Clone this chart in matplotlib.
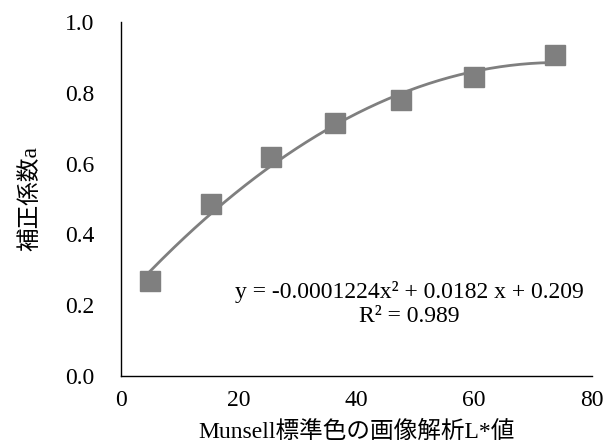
import matplotlib
matplotlib.use("Agg")
import matplotlib.pyplot as plt
import numpy as np

plt.rcParams["font.family"] = ["Liberation Serif", "Noto Sans CJK JP", "DejaVu Sans"]

# measured points: Munsell chip L* from image vs. correction coefficient a
L_values = [4.9, 15.3, 25.5, 36.4, 47.6, 59.9, 73.7]
coef_a = [0.269, 0.486, 0.619, 0.714, 0.780, 0.844, 0.908]

# quadratic trendline as printed on the chart
trend_coefs = [-0.0001224, 0.0182, 0.209]
eq_text = "y = -0.0001224x² + 0.0182 x + 0.209"
r2_text = "R² = 0.989"

gray = "#7f7f7f"
FS = 17

fig = plt.figure(figsize=(6.13, 4.44), dpi=100)
ax = fig.add_axes([0.1974, 0.1532, 0.7683, 0.7973])

xs = np.linspace(min(L_values), max(L_values), 200)
ax.plot(xs, np.polyval(trend_coefs, xs), color=gray, lw=2, zorder=2)
ax.plot(L_values, coef_a, "s", ms=14, color=gray, mec=gray, zorder=3)

ax.set_xlim(0, 80)
ax.set_ylim(0, 1.0)
ax.set_xticks([0, 20, 40, 60, 80])
ax.set_yticks(np.arange(0, 1.01, 0.2))
ax.yaxis.set_major_formatter(matplotlib.ticker.FormatStrFormatter("%.1f"))
ax.tick_params(length=0, labelsize=FS, colors="black")
ax.tick_params(axis="y", pad=19)
ax.tick_params(axis="x", pad=10)
for side in ("top", "right"):
    ax.spines[side].set_visible(False)
for side in ("left", "bottom"):
    ax.spines[side].set_color("black")
    ax.spines[side].set_linewidth(1.0)

ax.text(48.9, 0.237, eq_text, ha="center", va="center", fontsize=FS)
ax.text(48.9, 0.167, r2_text, ha="center", va="center", fontsize=FS)

ax.set_xlabel("Munsell標準色の画像解析L*値", fontsize=FS, labelpad=7)
ax.set_ylabel("補正係数a", fontsize=FS, labelpad=17)

fig.savefig("out.png", dpi=100)
